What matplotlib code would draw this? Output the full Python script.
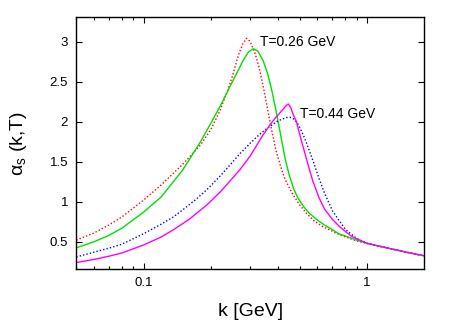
import numpy as np
import matplotlib as mpl
import matplotlib.pyplot as plt
from matplotlib.ticker import FixedLocator, FixedFormatter, LogLocator, NullFormatter
mpl.use('Agg')

plt.rcParams['font.family'] = ['Liberation Sans', 'DejaVu Sans']
plt.rcParams['mathtext.fontset'] = 'custom'
plt.rcParams['mathtext.rm'] = 'Liberation Sans'
plt.rcParams['mathtext.it'] = 'Liberation Sans'

# T = 0.26 GeV, dotted (red)
k_red = [0.05, 0.06, 0.07, 0.08, 0.1, 0.12, 0.15, 0.18, 0.2, 0.22, 0.24, 0.25, 0.265, 0.278,
         0.289, 0.30, 0.315, 0.33, 0.345, 0.36, 0.376, 0.39, 0.40, 0.415, 0.43, 0.45, 0.466,
         0.5, 0.534, 0.58, 0.634, 0.75, 0.9, 1.0, 1.2, 1.5, 1.8]
a_red = [0.52, 0.61, 0.71, 0.81, 1.02, 1.21, 1.47, 1.71, 1.90, 2.14, 2.42, 2.57, 2.82, 2.97,
         3.04, 3.00, 2.86, 2.66, 2.41, 2.14, 1.87, 1.66, 1.55, 1.40, 1.28, 1.17, 1.09,
         0.96, 0.86, 0.76, 0.69, 0.59, 0.51, 0.48, 0.43, 0.37, 0.325]

# T = 0.26 GeV, solid (green)
k_green = [0.05, 0.06, 0.07, 0.08, 0.1, 0.12, 0.15, 0.18, 0.2, 0.22, 0.25, 0.28, 0.295,
           0.31, 0.325, 0.343, 0.36, 0.375, 0.39, 0.406, 0.42, 0.43, 0.45, 0.47, 0.49,
           0.52, 0.55, 0.6, 0.645, 0.75, 0.9, 1.0, 1.2, 1.5, 1.8]
a_green = [0.425, 0.50, 0.58, 0.67, 0.87, 1.06, 1.40, 1.75, 1.98, 2.19, 2.50, 2.77, 2.87,
           2.91, 2.88, 2.76, 2.59, 2.39, 2.16, 1.91, 1.69, 1.54, 1.32, 1.16, 1.05,
           0.94, 0.86, 0.77, 0.71, 0.60, 0.52, 0.48, 0.43, 0.37, 0.325]

# T = 0.44 GeV, dotted (blue)
k_blue = [0.05, 0.06, 0.07, 0.08, 0.1, 0.12, 0.136, 0.15, 0.17, 0.192, 0.22, 0.244, 0.27,
          0.3, 0.33, 0.367, 0.4, 0.435, 0.451, 0.466, 0.483, 0.5, 0.525, 0.55, 0.572, 0.61,
          0.645, 0.703, 0.766, 0.804, 0.9, 1.0, 1.2, 1.5, 1.8]
a_blue = [0.31, 0.37, 0.42, 0.47, 0.60, 0.72, 0.81, 0.90, 1.02, 1.15, 1.32, 1.46, 1.60,
          1.73, 1.84, 1.94, 2.01, 2.05, 2.055, 2.04, 2.00, 1.93, 1.80, 1.65, 1.52, 1.29,
          1.11, 0.88, 0.73, 0.65, 0.54, 0.48, 0.43, 0.37, 0.325]

# T = 0.44 GeV, solid (magenta)
k_mag = [0.05, 0.06, 0.07, 0.08, 0.1, 0.12, 0.136, 0.16, 0.192, 0.22, 0.244, 0.27, 0.3,
         0.342, 0.37, 0.393, 0.42, 0.435, 0.445, 0.455, 0.466, 0.483, 0.5, 0.516, 0.534,
         0.552, 0.572, 0.61, 0.645, 0.7, 0.76, 0.85, 1.0, 1.2, 1.5, 1.8]
a_mag = [0.24, 0.28, 0.32, 0.36, 0.46, 0.56, 0.65, 0.78, 0.96, 1.12, 1.26, 1.40, 1.57,
         1.83, 1.97, 2.06, 2.15, 2.20, 2.22, 2.18, 2.10, 2.00, 1.84, 1.70, 1.55,
         1.41, 1.26, 1.05, 0.91, 0.78, 0.68, 0.57, 0.48, 0.43, 0.37, 0.325]

fig = plt.figure(figsize=(4.5, 3.21), dpi=100)
ax = fig.add_axes([0.1696, 0.162, 0.7726, 0.7835])

ax.plot(k_red, a_red, color='#ff0000', lw=1.0, ls=(0, (1, 1.5)))
ax.plot(k_green, a_green, color='#00e000', lw=1.0)
ax.plot(k_blue, a_blue, color='#0000ff', lw=1.0, ls=(0, (1, 1.5)))
ax.plot(k_mag, a_mag, color='#ff00ff', lw=1.0)

ax.set_xscale('log')
ax.set_xlim(0.05, 1.8)
ax.set_ylim(0.16, 3.3)

ax.xaxis.set_major_locator(FixedLocator([0.1, 1]))
ax.xaxis.set_major_formatter(FixedFormatter(['0.1', '1']))
ax.xaxis.set_minor_locator(LogLocator(base=10, subs=np.arange(2, 10)))
ax.xaxis.set_minor_formatter(NullFormatter())
ax.set_yticks([0.5, 1, 1.5, 2, 2.5, 3])
ax.set_yticklabels(['0.5', '1', '1.5', '2', '2.5', '3'])

ax.tick_params(which='both', direction='in', top=True, right=True, labelsize=9.5, width=0.8)
ax.tick_params(which='major', length=4, pad=6)
ax.tick_params(which='minor', length=2.5)
for s in ax.spines.values():
    s.set_linewidth(1.0)

ax.text(0.331, 2.99, 'T=0.26 GeV', fontsize=10, va='center', ha='left')
ax.text(0.499, 2.09, 'T=0.44 GeV', fontsize=10, va='center', ha='left')

ax.set_xlabel('k [GeV]', fontsize=14, labelpad=10)
ax.set_ylabel(r'$\alpha_{\mathrm{s}}$ (k,T)', fontsize=14, labelpad=15)

fig.savefig('out.png', dpi=100)
